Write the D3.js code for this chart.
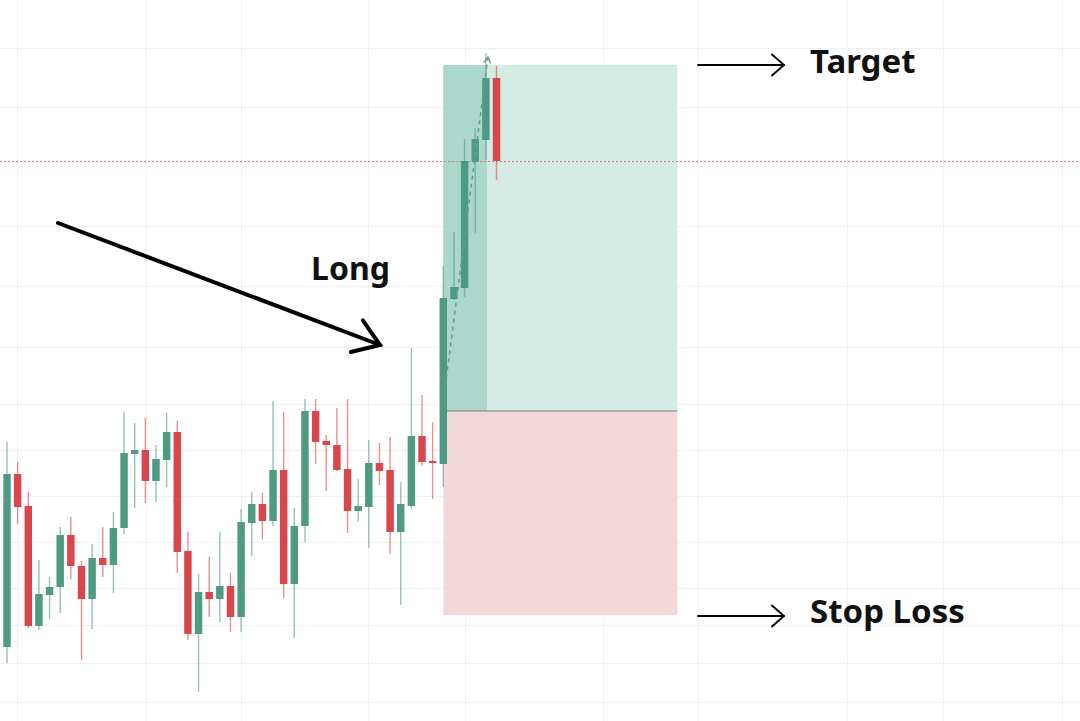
<!DOCTYPE html>
<html>
<head>
<meta charset="utf-8">
<script src="https://cdn.jsdelivr.net/npm/d3@7/dist/d3.min.js"></script>
<style>
  html, body { margin: 0; padding: 0; background: #ffffff; }
  svg { display: block; }
</style>
</head>
<body>
<svg id="chart" width="1080" height="721"></svg>
<script>
// ---- data (prices) ----
const opens  = [353,526,494,374,405,413,465,434,401,442,435,472,546,550,519,540,568,449,366,408,401,414,383,477,496,479,530,416,474,589,559,555,531,489,493,537,530,468,494,564,539,536,701,712,838,860,922];
const highs  = [558,538,508,440,423,473,483,439,456,473,488,588,577,582,555,587,579,468,426,443,468,427,491,508,507,599,588,492,601,601,565,592,601,521,560,557,563,518,652,605,578,734,768,861,872,947,934];
const lows   = [337,476,372,370,381,387,421,340,371,423,407,466,492,497,498,513,427,360,308,383,378,368,368,444,461,474,402,362,458,536,509,529,467,478,452,515,446,395,491,534,501,513,700,703,767,840,820];
const closes = [526,493,374,406,413,465,434,401,442,435,472,547,550,519,541,568,448,366,408,401,414,383,478,496,479,530,416,474,589,558,555,530,489,494,537,529,468,496,564,538,537,702,713,839,861,922,839];

// position tool (long)
const entryPrice  = 589;
const targetPrice = 935;
const stopPrice   = 385;
const entryBar    = 41;
const hitBar      = 45.1;
const boxEndBar   = 63;

// grid levels
const gridPrices = [952, 893, 834, 774, 714, 653, 596, 550, 504, 458, 412, 375, 337, 298];
const gridBars   = [0.94, 13.06, 22, 33.93, 43.05, 56, 64.94, 78.95, 87.97, 99.15];

const labels = { target: "Target", stop: "Stop Loss", long: "Long" };

// ---- scales ----
const W = 1080, H = 721;
const svg = d3.select("#chart");
const x = d3.scaleLinear().domain([0, 46]).range([7, 496.5]);
const y = d3.scaleLinear().domain([279, 1000]).range([721, 0]);
const step = x(1) - x(0);
const bodyW = step * 0.7;

const UP = "#4f9a83", DOWN = "#d9464c";

// ---- grid ----
const grid = svg.append("g");
grid.selectAll("line.h").data(gridPrices).join("line")
  .attr("x1", 0).attr("x2", W)
  .attr("y1", d => Math.round(y(d)) + 0.5).attr("y2", d => Math.round(y(d)) + 0.5)
  .attr("stroke", "#eff0f2").attr("stroke-width", 1);
grid.selectAll("line.v").data(gridBars).join("line")
  .attr("y1", 0).attr("y2", H)
  .attr("x1", d => Math.round(x(d)) + 0.5).attr("x2", d => Math.round(x(d)) + 0.5)
  .attr("stroke", "#eff0f2").attr("stroke-width", 1);

// ---- position boxes ----
const pos = svg.append("g");
pos.append("rect")
  .attr("x", x(entryBar)).attr("y", y(targetPrice))
  .attr("width", x(boxEndBar) - x(entryBar)).attr("height", y(entryPrice) - y(targetPrice))
  .attr("fill", "#d5ece4");
pos.append("rect")
  .attr("x", x(entryBar)).attr("y", y(targetPrice))
  .attr("width", x(hitBar) - x(entryBar)).attr("height", y(entryPrice) - y(targetPrice))
  .attr("fill", "#acd8cc");
pos.append("rect")
  .attr("x", x(entryBar)).attr("y", y(entryPrice))
  .attr("width", x(boxEndBar) - x(entryBar)).attr("height", y(stopPrice) - y(entryPrice))
  .attr("fill", "#f2d7db");
pos.append("line")
  .attr("x1", x(entryBar)).attr("x2", x(boxEndBar))
  .attr("y1", y(entryPrice)).attr("y2", y(entryPrice))
  .attr("stroke", "#7d7d7d").attr("stroke-width", 1.2);

// ---- price line (dotted) ----
const last = closes[closes.length - 1];
svg.append("line")
  .attr("x1", 0).attr("x2", W)
  .attr("y1", Math.round(y(last)) + 0.5).attr("y2", Math.round(y(last)) + 0.5)
  .attr("stroke", "#e0666c").attr("stroke-opacity", 0.85).attr("stroke-width", 1).attr("stroke-dasharray", "2,2");

// ---- candles ----
const idx = d3.range(opens.length);
const candles = svg.append("g");
candles.selectAll("line.wick").data(idx).join("line")
  .attr("x1", i => x(i)).attr("x2", i => x(i))
  .attr("y1", i => y(highs[i])).attr("y2", i => y(lows[i]))
  .attr("stroke", i => closes[i] >= opens[i] ? UP : DOWN)
  .attr("stroke-opacity", 0.6)
  .attr("stroke-width", 1.4);
candles.selectAll("rect.body").data(idx).join("rect")
  .attr("x", i => x(i) - bodyW / 2)
  .attr("width", bodyW)
  .attr("y", i => y(Math.max(opens[i], closes[i])))
  .attr("height", i => Math.max(1.5, Math.abs(y(opens[i]) - y(closes[i]))))
  .attr("fill", i => closes[i] >= opens[i] ? UP : DOWN);

// ---- dashed trade path ----
const tx1 = x(entryBar) + 2, ty1 = y(entryPrice) - 25;
const tx2 = x(hitBar) + 1, ty2 = y(targetPrice) - 8;
svg.append("line")
  .attr("x1", tx1).attr("y1", ty1).attr("x2", tx2).attr("y2", ty2)
  .attr("stroke", "#6e9a8e").attr("stroke-width", 1.5).attr("stroke-dasharray", "4,4");
{
  const ang = Math.atan2(ty2 - ty1, tx2 - tx1);
  const L = 7, a = 0.5;
  svg.append("path")
    .attr("d", `M${tx2 - L*Math.cos(ang - a)},${ty2 - L*Math.sin(ang - a)} L${tx2},${ty2} L${tx2 - L*Math.cos(ang + a)},${ty2 - L*Math.sin(ang + a)}`)
    .attr("fill", "none").attr("stroke", "#6e9a8e").attr("stroke-width", 1.5);
}

// ---- annotations ----
function arrow(g, x1, y1, x2, y2, head, spread, width) {
  const ang = Math.atan2(y2 - y1, x2 - x1);
  g.append("line").attr("x1", x1).attr("y1", y1).attr("x2", x2).attr("y2", y2)
    .attr("stroke", "#000").attr("stroke-width", width).attr("stroke-linecap", "round");
  g.append("path")
    .attr("d", `M${x2 - head*Math.cos(ang - spread)},${y2 - head*Math.sin(ang - spread)} L${x2},${y2} L${x2 - head*Math.cos(ang + spread)},${y2 - head*Math.sin(ang + spread)}`)
    .attr("fill", "none").attr("stroke", "#000").attr("stroke-width", width)
    .attr("stroke-linecap", "round").attr("stroke-linejoin", "miter");
}
const ann = svg.append("g");
arrow(ann, 698, y(targetPrice), 784, y(targetPrice), 16, 0.72, 1.8);
arrow(ann, 698, y(stopPrice) + 1, 784, y(stopPrice) + 1, 16, 0.72, 1.8);
arrow(ann, 58, 223, 380, 345, 30, 0.6, 4);

const font = "'Noto Sans', 'Open Sans', sans-serif";
ann.append("text").text(labels.target)
  .attr("x", 810).attr("y", 73)
  .attr("font-family", font).attr("font-weight", 700).attr("font-size", 33).attr("fill", "#111");
ann.append("text").text(labels.stop)
  .attr("x", 810).attr("y", 623)
  .attr("font-family", font).attr("font-weight", 700).attr("font-size", 33).attr("fill", "#111");
ann.append("text").text(labels.long)
  .attr("x", 311).attr("y", 280)
  .attr("font-family", font).attr("font-weight", 700).attr("font-size", 32).attr("fill", "#111");
</script>
</body>
</html>
